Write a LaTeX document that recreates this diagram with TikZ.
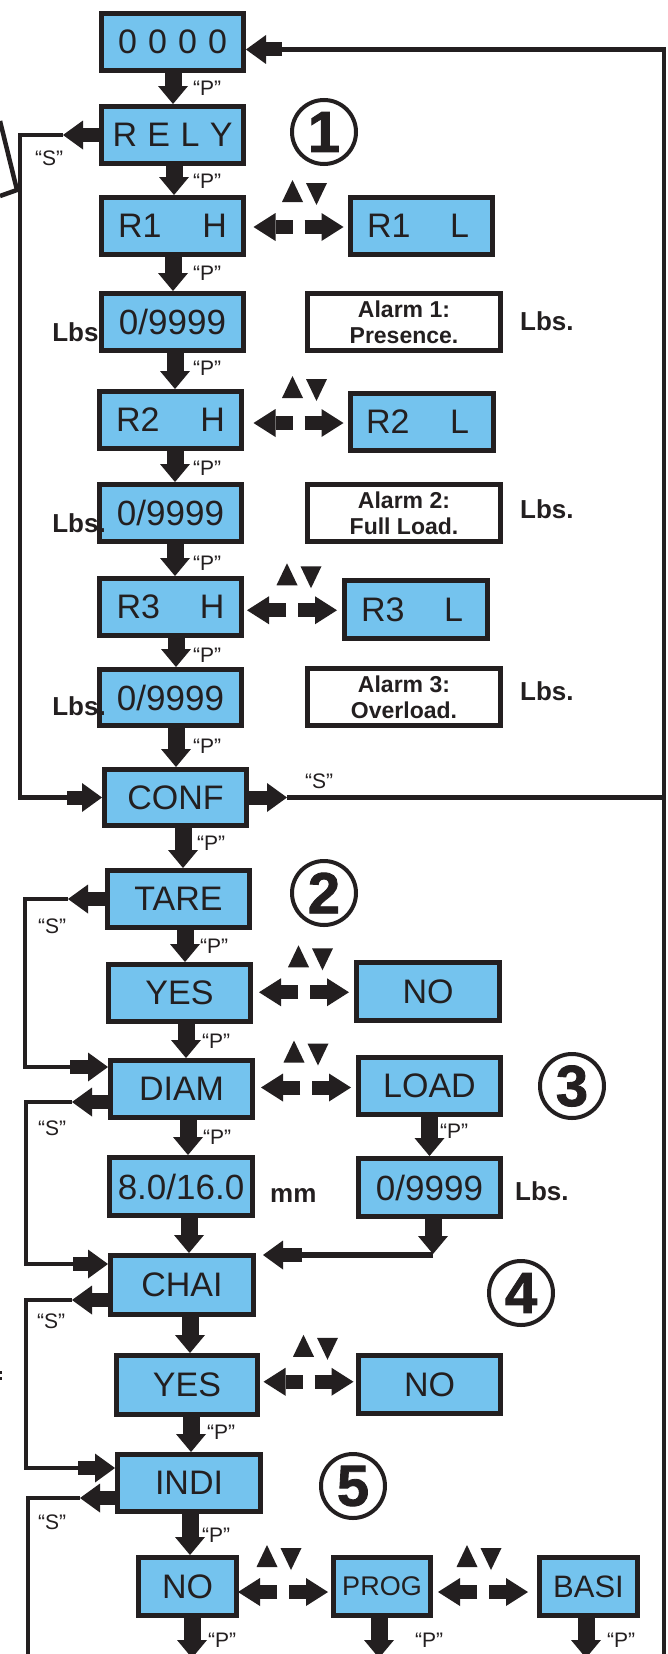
\documentclass[tikz,border=0pt]{standalone}
\usepackage{fontspec}
\setmainfont{Liberation Sans}
\newfontfamily\heavyfont{Liberation Sans}[FakeBold=1.5]
\usetikzlibrary{arrows.meta,calc}
\definecolor{ink}{RGB}{35,31,32}
\definecolor{lcd}{RGB}{116,195,238}
% #1 left node, #2 right node, #3 dx, #4 dy (down), #5 up-triangle offset
\newcommand\twoway[5]{%
  \path ($(#1.east)!.5!(#2.west)$) ++(#3,#4) coordinate (m);
  \draw[harr] ($(m)+(-6,0)$) -- ($(m)+(-45,0)$);
  \draw[harr] ($(m)+(6,0)$) -- ($(m)+(45,0)$);
  \fill[ink] ($(m)+(#5-10.5,-25)$) -- ($(m)+(#5+10.5,-25)$) -- ($(m)+(#5,-47)$) -- cycle;
  \fill[ink] ($(m)+(#5+13.5,-44)$) -- ($(m)+(#5+34.5,-44)$) -- ($(m)+(#5+24,-22)$) -- cycle;
}
\newcommand\vconn[3]{\path (#3,0) coordinate (ax); \draw[varr] (#1.south -| ax) -- (#2.north -| ax);}
\newcommand\bx[7][]{\node[lcdbox,minimum width=#5pt,minimum height=#6pt,#1] (#2) at (#3,#4) {#7};}
\begin{document}
\begin{tikzpicture}[x=1pt,y=-1pt,
  wire/.style={color=ink, line width=4.5pt, line join=miter},
  varr/.style={color=ink, line width=17pt, -{Triangle[length=18pt,width=30pt,line width=0pt]}},
  harr/.style={color=ink, line width=14pt, -{Triangle[length=22pt,width=28pt,line width=0pt]}},
  sarr/.style={color=ink, line width=14pt, -{Triangle[length=20pt,width=29pt,line width=0pt]}},
  lcdbox/.style={draw=ink, fill=lcd, line width=5pt, inner sep=0pt, text=ink, font=\fontsize{34}{40}\selectfont},
  alarm/.style={draw=ink, fill=white, line width=5pt, inner sep=0pt, align=center, text=ink, minimum width=193pt, minimum height=57pt, font=\bfseries\fontsize{23}{26}\selectfont},
  lab/.style={inner sep=0pt, text=ink, font=\fontsize{21}{24}\selectfont},
  unit/.style={inner sep=0pt, text=ink, font=\bfseries\fontsize{26}{30}\selectfont},
  circ/.style={circle, draw=ink, line width=4pt, minimum size=64pt, inner sep=0pt, text=ink, font=\heavyfont\bfseries\fontsize{58}{60}\selectfont},
  num/.style={font=\fontsize{35}{40}\selectfont}]
\useasboundingbox (0,0) rectangle (668,1654);
\fill[white] (0,0) rectangle (668,1654);

% fragments at left edge
\draw[wire] (0,121) -- (17,190) -- (0,196);
\fill[ink] (0,1371) rectangle (2,1373.5);
\fill[ink] (0,1377) rectangle (2,1379.5);

% boxes, left column
\bx{n0000}{172.5}{42}{142}{57}{\makebox[109pt]{0\hfill 0\hfill 0\hfill 0}}
\bx{rely}{172.5}{135}{142}{57}{\makebox[120pt]{R\hfill E\hfill L\hfill Y}}
\bx{r1h}{172.5}{226}{142}{57}{\makebox[109pt]{R1\hfill H}}
\bx[num]{v1}{172.5}{322}{142}{57}{0/9999}
\bx{r2h}{170.5}{420}{142}{57}{\makebox[109pt]{R2\hfill H}}
\bx[num]{v2}{170.5}{513}{142}{57}{0/9999}
\bx{r3h}{170.5}{607}{142}{57}{\makebox[108pt]{R3\hfill H}}
\bx[num]{v3}{170.5}{697.5}{142}{56}{0/9999}
\bx{conf}{175.5}{797.5}{142}{56}{CONF}
\bx{tare}{178.5}{899}{142}{57}{TARE}
\bx{yes1}{179.5}{993}{142}{57}{YES}
\bx{diam}{181.5}{1089}{142}{57}{DIAM}
\bx[num]{mmv}{181}{1186.5}{143}{58}{8.0/16.0}
\bx{chai}{182}{1285}{143}{59}{CHAI}
\bx{yes2}{187}{1385}{141}{59}{YES}
\bx{indi}{189}{1483}{143}{57}{INDI}
\bx{no3}{187.5}{1586.5}{98}{58}{NO}
\bx[font=\fontsize{27}{30}\selectfont]{prog}{382}{1586.5}{97}{58}{PROG}
\bx[font=\fontsize{31}{34}\selectfont]{basi}{588.5}{1586.5}{98}{58}{BASI}

% boxes, right column
\bx{r1l}{421.5}{226}{142}{57}{\makebox[102pt]{R1\hfill L}\hspace*{7pt}}
\bx{r2l}{422}{422}{143}{57}{\makebox[103pt]{R2\hfill L}\hspace*{9pt}}
\bx{r3l}{416}{609.5}{143}{58}{\makebox[102pt]{R3\hfill L}\hspace*{8pt}}
\bx{no1}{428}{991.5}{143}{58}{NO}
\bx{load}{429.5}{1086}{142}{57}{LOAD}
\bx[num]{v4}{429.5}{1187.5}{142}{58}{0/9999}
\bx{no2}{429.5}{1384.5}{142}{58}{NO}
\node[alarm] (a1) at (404,322) {Alarm 1:\\Presence.};
\node[alarm] (a2) at (404,513) {Alarm 2:\\Full Load.};
\node[alarm] (a3) at (404,697) {Alarm 3:\\Overload.};

% circled section numbers
\node[circ] (c1) at (324,132) {1};
\node[circ] (c2) at (324,893) {2};
\node[circ] (c3) at (572,1086) {3};
\node[circ] (c4) at (521,1293) {4};
\node[circ] (c5) at (353,1486) {5};

% vertical "P" arrows
\vconn{n0000}{rely}{173}
\vconn{rely}{r1h}{174}
\vconn{r1h}{v1}{173}
\vconn{v1}{r2h}{175}
\vconn{r2h}{v2}{175}
\vconn{v2}{r3h}{175}
\vconn{r3h}{v3}{176}
\vconn{v3}{conf}{176}
\vconn{conf}{tare}{183}
\vconn{tare}{yes1}{185}
\vconn{yes1}{diam}{186}
\vconn{diam}{mmv}{188}
\vconn{mmv}{chai}{189}
\vconn{chai}{yes2}{190}
\vconn{yes2}{indi}{191}
\vconn{indi}{no3}{190}
\vconn{load}{v4}{429.5}
\coordinate (e1) at (192,1658);
\coordinate (e2) at (379,1658);
\coordinate (e3) at (586,1658);
\draw[varr] (no3.south -| e1) -- (e1);
\draw[varr] (prog.south -| e2) -- (e2);
\draw[varr] (basi.south -| e3) -- (e3);

% up/down selection arrows
\twoway{r1h}{r1l}{1.5}{1}{-6}
\twoway{r2h}{r2l}{2.5}{2}{-6}
\twoway{r3h}{r3l}{-1}{2}{-5}
\twoway{yes1}{no1}{0.5}{0}{-5.5}
\twoway{diam}{load}{0.5}{0}{-12}
\twoway{yes2}{no2}{0.5}{-3}{-5}
\twoway{no3}{prog}{-2}{5.5}{-16}
\twoway{prog}{basi}{-2}{5.5}{-16}

% return loop to 0000 and CONF "S"
\coordinate (t1) at (282,49.5);
\draw[wire] (664,1660) -- (664,49.5) -- (t1);
\draw[sarr] (t1) -- ([yshift=-7.5pt]n0000.east);
\coordinate (cs) at (287,797.5);
\draw[sarr] (conf.east) -- (cs);
\draw[wire] (cs) -- (664,797.5);

% RELY "S" loop to CONF
\coordinate (s1) at (63,135);
\coordinate (s1b) at (67,797.5);
\draw[sarr] (rely.west) -- (s1);
\draw[wire] (s1) -- (20,135) -- (20,797.5) -- (s1b);
\draw[sarr] (s1b) -- (conf.west);

% TARE "S" loop to DIAM
\coordinate (s2) at (68,899);
\coordinate (s2b) at (70,1067);
\draw[sarr] (tare.west) -- (s2);
\draw[wire] (s2) -- (25,899) -- (25,1067) -- (s2b);
\draw[sarr] (s2b) -- ([yshift=22pt]diam.west);

% DIAM "S" loop to CHAI
\coordinate (s3) at (72,1102);
\coordinate (s3b) at (73,1264);
\draw[sarr] ([yshift=-13pt]diam.west) -- (s3);
\draw[wire] (s3) -- (26,1102) -- (26,1264) -- (s3b);
\draw[sarr] (s3b) -- ([yshift=21pt]chai.west);

% CHAI "S" loop to INDI
\coordinate (s4) at (72,1300);
\coordinate (s4b) at (78,1468);
\draw[sarr] ([yshift=-15pt]chai.west) -- (s4);
\draw[wire] (s4) -- (26,1300) -- (26,1468) -- (s4b);
\draw[sarr] (s4b) -- ([yshift=15pt]indi.west);

% INDI "S" loop
\coordinate (s5) at (80,1498);
\draw[sarr] ([yshift=-15pt]indi.west) -- (s5);
\draw[wire] (s5) -- (28,1498) -- (28,1660);

% LOAD value back to CHAI
\coordinate (lj) at (433,1254);
\coordinate (lk) at (302,1255);
\draw[varr] (v4.south -| lj) -- (lj);
\draw[color=ink, line width=6.5pt] (433,1255) -- (lk);
\draw[sarr] (lk) -- ([xshift=7pt,yshift=30pt]chai.east);

% "P" labels
\node[lab,anchor=west] (p1) at (193,88) {“P”};
\node[lab,anchor=west] (p2) at (193,181) {“P”};
\node[lab,anchor=west] (p3) at (193,273) {“P”};
\node[lab,anchor=west] (p4) at (193,368) {“P”};
\node[lab,anchor=west] (p5) at (193,468) {“P”};
\node[lab,anchor=west] (p6) at (193,563) {“P”};
\node[lab,anchor=west] (p7) at (193,655) {“P”};
\node[lab,anchor=west] (p8) at (193,746) {“P”};
\node[lab,anchor=west] (p9) at (197,843) {“P”};
\node[lab,anchor=west] (p10) at (200,946) {“P”};
\node[lab,anchor=west] (p11) at (202,1041) {“P”};
\node[lab,anchor=west] (p12) at (203,1137) {“P”};
\node[lab,anchor=west] (p13) at (440,1131) {“P”};
\node[lab,anchor=west] (p14) at (207,1432) {“P”};
\node[lab,anchor=west] (p15) at (202,1535) {“P”};
\node[lab,anchor=west] (p16) at (208,1640) {“P”};
\node[lab,anchor=west] (p17) at (415,1640) {“P”};
\node[lab,anchor=west] (p18) at (607,1640) {“P”};

% "S" labels
\node[lab,anchor=west] (q1) at (35,158) {“S”};
\node[lab,anchor=west] (q2) at (305,781) {“S”};
\node[lab,anchor=west] (q3) at (38,926) {“S”};
\node[lab,anchor=west] (q4) at (38,1128) {“S”};
\node[lab,anchor=west] (q5) at (37,1321) {“S”};
\node[lab,anchor=west] (q6) at (38,1522) {“S”};

% units
\node[unit,anchor=base east] (u1) at (106,341) {Lbs.};
\node[unit,anchor=base east] (u2) at (106,532) {Lbs.};
\node[unit,anchor=base east] (u3) at (106,715) {Lbs.};
\node[unit,anchor=base west] (u4) at (520,330) {Lbs.};
\node[unit,anchor=base west] (u5) at (520,518) {Lbs.};
\node[unit,anchor=base west] (u6) at (520,700) {Lbs.};
\node[unit,anchor=base west] (u7) at (270,1202) {mm};
\node[unit,anchor=base west] (u8) at (515,1200) {Lbs.};
\end{tikzpicture}
\end{document}
